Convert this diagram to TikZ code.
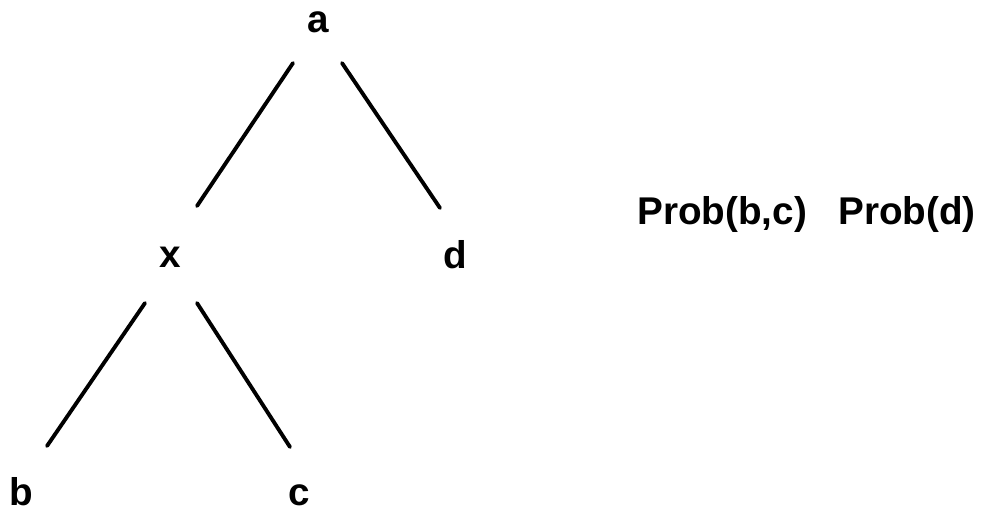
\documentclass[tikz,border=0pt]{standalone}
\usepackage{fontspec}
\setmainfont{Liberation Sans}
\begin{document}
\begin{tikzpicture}[x=0.02cm,y=-0.02cm,
  lbl/.style={inner sep=0pt,anchor=base,font=\bfseries\fontsize{22}{25}\selectfont},
  edge/.style={line width=2.2pt,line cap=round}]
\useasboundingbox (0,0) rectangle (983,512);
\node[lbl] (a) at (318,32) {a};
\node[lbl] (x) at (170,267) {x};
\node[lbl] (d) at (455,268) {d};
\node[lbl] (b) at (21,505) {b};
\node[lbl] (c) at (299,505) {c};
\node[lbl,anchor=base west] (p1) at (637,224) {Prob(b,c)};
\node[lbl,anchor=base west] (p2) at (838,224) {Prob(d)};
% connector ends
\coordinate (ax1) at (293,63);  \coordinate (ax2) at (197,206);
\coordinate (ad1) at (342,63);  \coordinate (ad2) at (440,208);
\coordinate (xb1) at (145,303); \coordinate (xb2) at (47,446);
\coordinate (xc1) at (197,303); \coordinate (xc2) at (290,447);
\draw[edge] (ax1) -- (ax2);
\draw[edge] (ad1) -- (ad2);
\draw[edge] (xb1) -- (xb2);
\draw[edge] (xc1) -- (xc2);
\end{tikzpicture}
\end{document}
